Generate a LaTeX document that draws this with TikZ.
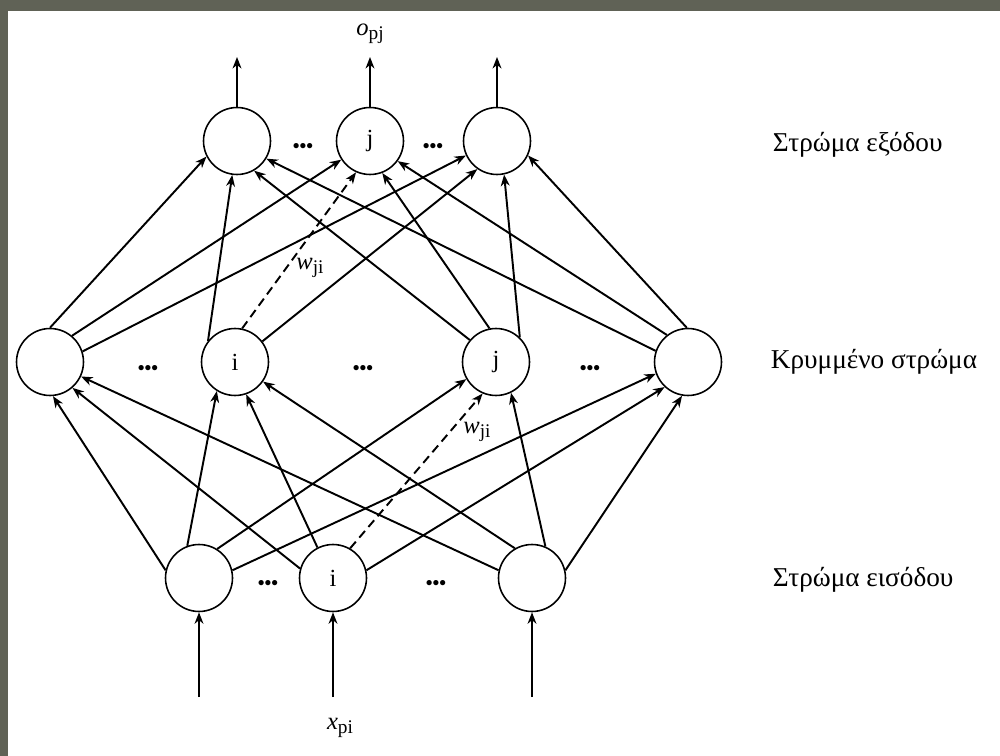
\documentclass[tikz,border=0pt]{standalone}
\usepackage{fontspec}
\setmainfont{Liberation Serif}
\usetikzlibrary{arrows.meta}
\definecolor{framegray}{RGB}{96,98,86}

\begin{document}
\begin{tikzpicture}[x=0.02cm, y=-0.02cm, >={Stealth[length=6.5pt,width=5pt,inset=2pt]}, line width=1.1pt,
    neuron/.style={circle, draw, line width=0.9pt, minimum size=1.34cm, inner sep=0pt, font=\fontsize{14}{14}\selectfont},
    gap/.style={inner sep=0pt, font=\bfseries\fontsize{11}{11}\selectfont},
    layername/.style={anchor=west, inner sep=0pt, font=\fontsize{15.5}{15.5}\selectfont},
    weight/.style={inner sep=1pt, font=\fontsize{14}{14}\selectfont}]
    \fill[framegray] (0,0) rectangle (1000,756);
    \fill[white] (8,11) rectangle (1000,756);

    \node[neuron] (o1) at (237,141) {};
    \node[neuron] (oj) at (370,141) {j};
    \node[neuron] (o3) at (497,141) {};
    \node[neuron] (h1) at (50,362) {};
    \node[neuron] (hi) at (235,362) {i};
    \node[neuron] (hj) at (496,362) {j};
    \node[neuron] (h4) at (688,362) {};
    \node[neuron] (i1) at (199,578) {};
    \node[neuron] (ii) at (333,578) {i};
    \node[neuron] (i3) at (532,578) {};

    \node[gap] (d1) at (303,148) {•••};
    \node[gap] (d2) at (433,148) {•••};
    \node[gap] (d3) at (148,370) {•••};
    \node[gap] (d4) at (363,370) {•••};
    \node[gap] (d5) at (590,370) {•••};
    \node[gap] (d6) at (268,585) {•••};
    \node[gap] (d7) at (436,585) {•••};

    \coordinate (out1) at (237,57);
    \coordinate (outj) at (370,57);
    \coordinate (out3) at (497,57);
    \coordinate (in1) at (199,697);
    \coordinate (ini) at (333,697);
    \coordinate (in3) at (532,697);
    \draw[->] (o1) -- (out1);
    \draw[->] (oj) -- (outj) node[above=6pt, weight] (opj) {\textit{o}\raisebox{-0.4ex}{\fontsize{11}{11}\selectfont pj}};
    \draw[->] (o3) -- (out3);
    \draw[->] (in1) -- (i1);
    \draw[->] (ini) -- (ii);
    \draw[->] (in3) -- (i3);
    \node[weight] (xpi) at (340,728) {\textit{x}\raisebox{-0.4ex}{\fontsize{11}{11}\selectfont pi}};

    \draw[->] (h1.90) -- (o1.-153);
    \draw[->] (h1.50) -- (oj.-147);
    \draw[->] (h1.18) -- (o3.-155);
    \draw[->] (hi.142) -- (o1.-98);
    \draw[->, dash pattern=on 5pt off 3pt] (hi.78) -- (oj.-114);
    \draw[->] (hi.37) -- (o3.-125);
    \draw[->] (hj.140) -- (o1.-60);
    \draw[->] (hj.101) -- (oj.-69);
    \draw[->] (hj.46) -- (o3.-78);
    \draw[->] (h4.161) -- (o1.-31);
    \draw[->] (h4.128) -- (oj.-36);
    \draw[->] (h4.92) -- (o3.-25);

    \draw[->] (i1.167) -- (h1.-85);
    \draw[->] (i1.110) -- (hi.-122);
    \draw[->] (i1.58) -- (hj.-150);
    \draw[->] (i1.13) -- (h4.-160);
    \draw[->] (ii.164) -- (h1.-49);
    \draw[->] (ii.117) -- (hi.-71);
    \draw[->, dash pattern=on 5pt off 3pt] (ii.60) -- (hj.-113);
    \draw[->] (ii.13) -- (h4.-133);
    \draw[->] (i3.167) -- (h1.-25);
    \draw[->] (i3.120) -- (hi.-35);
    \draw[->] (i3.67) -- (hj.-64);
    \draw[->] (i3.13) -- (h4.-100);

    \node[weight] (w1) at (310,268) {\textit{w}\raisebox{-0.4ex}{\fontsize{11}{11}\selectfont ji}};
    \node[weight] (w2) at (477,432) {\textit{w}\raisebox{-0.4ex}{\fontsize{11}{11}\selectfont ji}};

    \node[layername] (lo) at (772,145) {Στρώμα εξόδου};
    \node[layername] (lh) at (770,362) {Κρυμμένο στρώμα};
    \node[layername] (li) at (772,580) {Στρώμα εισόδου};
\end{tikzpicture}
\end{document}
